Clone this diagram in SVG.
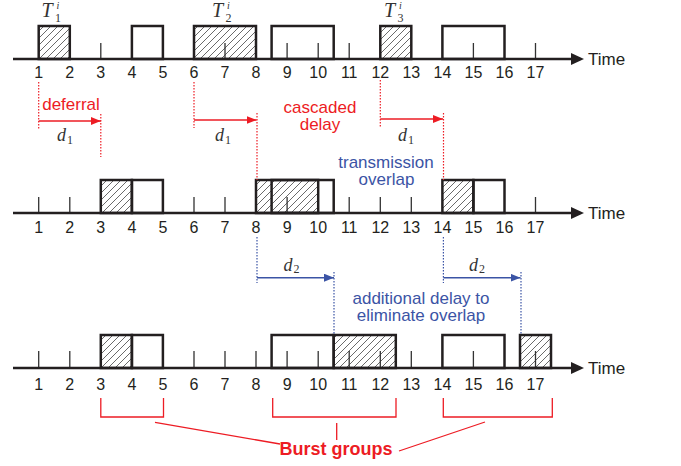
<svg xmlns="http://www.w3.org/2000/svg" width="681" height="466" viewBox="0 0 681 466">
  <defs>
    <pattern id="hatch" patternUnits="userSpaceOnUse" width="7" height="7">
      <path d="M-1,1 l2,-2 M0,7 l7,-7 M6,8 l2,-2" stroke="#444" stroke-width="0.8"/>
    </pattern>
    <marker id="ahRed" markerWidth="10" markerHeight="8" refX="10" refY="4" orient="auto" markerUnits="userSpaceOnUse">
      <path d="M0,0 L10,4 L0,8 z" fill="#ed1c24"/>
    </marker>
    <marker id="ahBlue" markerWidth="10" markerHeight="8" refX="10" refY="4" orient="auto" markerUnits="userSpaceOnUse">
      <path d="M0,0 L10,4 L0,8 z" fill="#3b54a5"/>
    </marker>
  </defs>
  <style>
    .axis { stroke: #231f20; stroke-width: 2.5; fill: none; }
    .tip { fill: #231f20; }
    .box { stroke: #231f20; stroke-width: 2.5; fill: none; }
    .hat { stroke: #231f20; stroke-width: 2.5; fill: url(#hatch); }
    .tick { stroke: #333; stroke-width: 1.3; }
    .num { font-family: "Liberation Sans", Arial, sans-serif; font-size: 16px; fill: #231f20; text-anchor: middle; }
    .time { font-family: "Liberation Sans", Arial, sans-serif; font-size: 17px; fill: #231f20; }
    .math { font-family: "Liberation Serif", "Times New Roman", serif; font-style: italic; fill: #333; }
    .sub { font-family: "Liberation Serif", "Times New Roman", serif; fill: #333; }
    .red { font-family: "Liberation Sans", Arial, sans-serif; font-size: 17px; fill: #ed1c24; text-anchor: middle; }
    .blue { font-family: "Liberation Sans", Arial, sans-serif; font-size: 17px; fill: #3b54a5; text-anchor: middle; }
    .burst { font-family: "Liberation Sans", Arial, sans-serif; font-size: 18px; font-weight: bold; fill: #ed1c24; text-anchor: middle; }
    .rdot { stroke: #ed1c24; stroke-width: 1.2; stroke-dasharray: 1.5 1.5; fill: none; }
    .bdot { stroke: #3b54a5; stroke-width: 1.2; stroke-dasharray: 1.5 1.5; fill: none; }
    .rarrow { stroke: #ed1c24; stroke-width: 1.5; fill: none; marker-end: url(#ahRed); }
    .barrow { stroke: #3b54a5; stroke-width: 1.5; fill: none; marker-end: url(#ahBlue); }
    .rline { stroke: #ed1c24; stroke-width: 1.3; fill: none; }
  </style>
  <rect width="681" height="466" fill="#ffffff"/>

  <!-- Timeline 1: original schedule -->
  <g id="row1">
    <rect class="hat" x="38.7" y="26" width="31.1" height="33"/>
    <rect class="box" x="131.9" y="26" width="31" height="33"/>
    <rect class="hat" x="194" y="26" width="62" height="33"/>
    <rect class="box" x="271.6" y="26" width="62.1" height="33"/>
    <rect class="hat" x="380.3" y="26" width="31" height="33"/>
    <rect class="box" x="442.4" y="26" width="62.1" height="33"/>
    <path class="tick" d="M100.8,43V59 M225,43V59 M287.1,43V59 M318.2,43V59 M349.2,43V59 M473.4,43V59 M535.5,43V59"/>
    <line class="axis" x1="13" y1="59" x2="574" y2="59"/>
    <path class="tip" d="M571,53 L584,59 L571,65 z"/>
    <text class="time" x="588" y="65">Time</text>
    <g class="nums">
      <text class="num" x="38.7" y="78">1</text><text class="num" x="69.8" y="78">2</text><text class="num" x="100.8" y="78">3</text>
      <text class="num" x="131.9" y="78">4</text><text class="num" x="162.9" y="78">5</text><text class="num" x="194" y="78">6</text>
      <text class="num" x="225" y="78">7</text><text class="num" x="256" y="78">8</text><text class="num" x="287.1" y="78">9</text>
      <text class="num" x="318.2" y="78">10</text><text class="num" x="349.2" y="78">11</text><text class="num" x="380.3" y="78">12</text>
      <text class="num" x="411.3" y="78">13</text><text class="num" x="442.4" y="78">14</text><text class="num" x="473.4" y="78">15</text>
      <text class="num" x="504.5" y="78">16</text><text class="num" x="535.5" y="78">17</text>
    </g>
  </g>

  <!-- Packet labels T_k^i -->
  <g id="label-T1">
    <text class="math" x="41.5" y="17" font-size="20">T</text>
    <text class="sub" x="55" y="21.5" font-size="12">1</text>
    <text class="math" x="56.5" y="8.5" font-size="10">i</text>
  </g>
  <g id="label-T2">
    <text class="math" x="212" y="17" font-size="20">T</text>
    <text class="sub" x="225.5" y="21.5" font-size="12">2</text>
    <text class="math" x="227" y="8.5" font-size="10">i</text>
  </g>
  <g id="label-T3">
    <text class="math" x="384" y="17" font-size="20">T</text>
    <text class="sub" x="397.5" y="21.5" font-size="12">3</text>
    <text class="math" x="399" y="8.5" font-size="10">i</text>
  </g>

  <!-- Timeline 2: deferred schedule -->
  <g id="row2">
    <rect class="hat" x="100.8" y="180" width="31.1" height="33"/>
    <rect class="box" x="131.9" y="180" width="31" height="33"/>
    <rect class="hat" x="256" y="180" width="62.2" height="33"/>
    <rect class="box" x="271.6" y="180" width="62.1" height="33"/>
    <rect class="hat" x="442.4" y="180" width="31" height="33"/>
    <rect class="box" x="473.4" y="180" width="31.1" height="33"/>
    <path class="tick" d="M38.7,197V213 M69.8,197V213 M194,197V213 M225,197V213 M287.1,197V213 M349.2,197V213 M380.3,197V213 M411.3,197V213 M535.5,197V213"/>
    <line class="axis" x1="13" y1="213" x2="574" y2="213"/>
    <path class="tip" d="M571,207 L584,213 L571,219 z"/>
    <text class="time" x="588" y="219">Time</text>
    <g class="nums">
      <text class="num" x="38.7" y="233">1</text><text class="num" x="69.8" y="233">2</text><text class="num" x="100.8" y="233">3</text>
      <text class="num" x="131.9" y="233">4</text><text class="num" x="162.9" y="233">5</text><text class="num" x="194" y="233">6</text>
      <text class="num" x="225" y="233">7</text><text class="num" x="256" y="233">8</text><text class="num" x="287.1" y="233">9</text>
      <text class="num" x="318.2" y="233">10</text><text class="num" x="349.2" y="233">11</text><text class="num" x="380.3" y="233">12</text>
      <text class="num" x="411.3" y="233">13</text><text class="num" x="442.4" y="233">14</text><text class="num" x="473.4" y="233">15</text>
      <text class="num" x="504.5" y="233">16</text><text class="num" x="535.5" y="233">17</text>
    </g>
  </g>

  <!-- Timeline 3: overlap-free schedule -->
  <g id="row3">
    <rect class="hat" x="100.8" y="335" width="31.1" height="33"/>
    <rect class="box" x="131.9" y="335" width="31" height="33"/>
    <rect class="box" x="271.6" y="335" width="62.1" height="33"/>
    <rect class="hat" x="333.7" y="335" width="62.1" height="33"/>
    <rect class="box" x="442.4" y="335" width="62.1" height="33"/>
    <rect class="hat" x="520" y="335" width="31" height="33"/>
    <path class="tick" d="M38.7,351V368 M69.8,351V368 M194,351V368 M225,351V368 M256,351V368 M287.1,351V368 M318.2,351V368 M349.2,351V368 M380.3,351V368 M411.3,351V368 M473.4,351V368 M535.5,351V368"/>
    <line class="axis" x1="13" y1="368" x2="574" y2="368"/>
    <path class="tip" d="M571,362 L584,368 L571,374 z"/>
    <text class="time" x="588" y="374">Time</text>
    <g class="nums">
      <text class="num" x="38.7" y="390">1</text><text class="num" x="69.8" y="390">2</text><text class="num" x="100.8" y="390">3</text>
      <text class="num" x="131.9" y="390">4</text><text class="num" x="162.9" y="390">5</text><text class="num" x="194" y="390">6</text>
      <text class="num" x="225" y="390">7</text><text class="num" x="256" y="390">8</text><text class="num" x="287.1" y="390">9</text>
      <text class="num" x="318.2" y="390">10</text><text class="num" x="349.2" y="390">11</text><text class="num" x="380.3" y="390">12</text>
      <text class="num" x="411.3" y="390">13</text><text class="num" x="442.4" y="390">14</text><text class="num" x="473.4" y="390">15</text>
      <text class="num" x="504.5" y="390">16</text><text class="num" x="535.5" y="390">17</text>
    </g>
  </g>

  <!-- Delay arrows, guides and bracket leaders -->
  <g id="connectors">
    <!-- deferral d1 -->
    <path class="rdot" d="M38.7,82V130 M100.8,114V157"/>
    <line class="rarrow" x1="38.7" y1="121" x2="100.8" y2="121"/>
    <!-- cascaded delay d1 (T2) -->
    <path class="rdot" d="M194,82V128 M257,113V180"/>
    <line class="rarrow" x1="194" y1="120" x2="256.5" y2="120"/>
    <!-- cascaded delay d1 (T3) -->
    <path class="rdot" d="M380.3,80V128 M443.5,113V180"/>
    <line class="rarrow" x1="380.3" y1="119" x2="443" y2="119"/>
    <!-- additional delay d2 -->
    <path class="bdot" d="M257,237V283 M334,272V334"/>
    <line class="barrow" x1="257" y1="277.7" x2="334" y2="277.7"/>
    <path class="bdot" d="M443.4,237V283 M521,272V334"/>
    <line class="barrow" x1="443.4" y1="277.7" x2="520.5" y2="277.7"/>
    <!-- burst group brackets -->
    <path class="rline" d="M100.8,398V417H163.5V398"/>
    <path class="rline" d="M272.7,398V417H396V398"/>
    <path class="rline" d="M443.3,398V417H552.3V398"/>
    <path class="rline" d="M155,422.3L280,444 M336.7,423V440 M485,422L399,451"/>
  </g>

  <!-- Delay labels -->
  <g id="label-d1a">
    <text class="math" x="57" y="141" font-size="18">d</text>
    <text class="sub" x="67" y="144" font-size="12">1</text>
  </g>
  <g id="label-d1b">
    <text class="math" x="215" y="141" font-size="18">d</text>
    <text class="sub" x="225" y="144" font-size="12">1</text>
  </g>
  <g id="label-d1c">
    <text class="math" x="398" y="141" font-size="18">d</text>
    <text class="sub" x="408" y="144" font-size="12">1</text>
  </g>
  <g id="label-d2a">
    <text class="math" x="283.5" y="270.5" font-size="18">d</text>
    <text class="sub" x="293.5" y="273" font-size="12">2</text>
  </g>
  <g id="label-d2b">
    <text class="math" x="469" y="270.5" font-size="18">d</text>
    <text class="sub" x="479" y="273" font-size="12">2</text>
  </g>

  <!-- Annotations -->
  <g id="note-deferral">
    <text class="red" x="71" y="110">deferral</text>
  </g>
  <g id="note-cascaded">
    <text class="red" x="320" y="112.5">cascaded</text>
    <text class="red" x="320" y="129.5">delay</text>
  </g>
  <g id="note-overlap">
    <text class="blue" x="386" y="167.5">transmission</text>
    <text class="blue" x="386.5" y="184.5">overlap</text>
  </g>
  <g id="note-additional">
    <text class="blue" x="421" y="303.5">additional delay to</text>
    <text class="blue" x="421" y="320.5">eliminate overlap</text>
  </g>
  <g id="note-burst">
    <text class="burst" x="336" y="455">Burst groups</text>
  </g>
</svg>
